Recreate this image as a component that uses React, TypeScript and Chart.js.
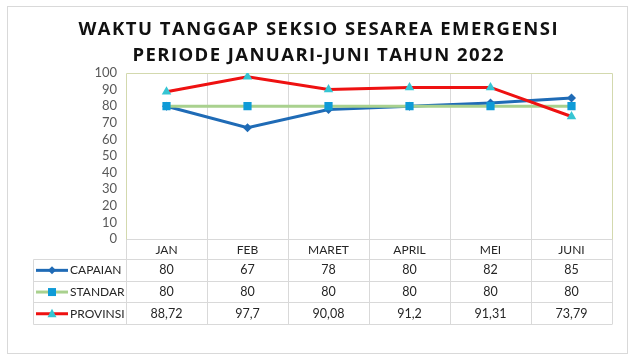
import React, { useEffect, useRef } from 'react';
import { Chart, registerables } from 'chart.js';

Chart.register(...registerables);

const categories = ['JAN', 'FEB', 'MARET', 'APRIL', 'MEI', 'JUNI'];
const capaian = [80, 67, 78, 80, 82, 85];
const standar = [80, 80, 80, 80, 80, 80];
const provinsi = [88.72, 97.7, 90.08, 91.2, 91.31, 73.79];
const seriesNames = ['CAPAIAN', 'STANDAR', 'PROVINSI'];
const titleLines = ['WAKTU TANGGAP SEKSIO SESAREA EMERGENSI', 'PERIODE JANUARI-JUNI TAHUN 2022'];
const yMin = 0;
const yMax = 100;
const yStep = 10;

const FONT = 'Lato, "Noto Sans", sans-serif';
const TITLE_FONT = '"Open Sans", "Noto Sans", sans-serif';
const BLUE = '#1f6bb6';
const GREEN = '#a9d18e';
const SQUARE = '#0f9bd7';
const RED = '#ee1111';
const TRI = '#36c5d3';
const GRID = '#d9d9d9';
const PLOT_BORDER = '#d3d9ae';
const TEXT = '#262626';

const fmt = (v: number) => String(v).replace('.', ',');

type Marker = 'diamond' | 'square' | 'triangle';
const seriesStyle: { line: string; marker: string; shape: Marker }[] = [
  { line: BLUE, marker: BLUE, shape: 'diamond' },
  { line: GREEN, marker: SQUARE, shape: 'square' },
  { line: RED, marker: TRI, shape: 'triangle' },
];
const seriesValues = [capaian, standar, provinsi];

function drawMarker(ctx: CanvasRenderingContext2D, shape: Marker, x: number, y: number, color: string) {
  ctx.fillStyle = color;
  ctx.beginPath();
  if (shape === 'diamond') {
    ctx.moveTo(x, y - 4);
    ctx.lineTo(x + 4, y);
    ctx.lineTo(x, y + 4);
    ctx.lineTo(x - 4, y);
  } else if (shape === 'square') {
    ctx.rect(x - 4, y - 4, 8, 8);
  } else {
    ctx.moveTo(x, y - 5);
    ctx.lineTo(x + 4.5, y + 3.5);
    ctx.lineTo(x - 4.5, y + 3.5);
  }
  ctx.closePath();
  ctx.fill();
}

const framePlugin = {
  id: 'frameTable',
  beforeDraw(chart: any) {
    const ctx: CanvasRenderingContext2D = chart.ctx;
    ctx.save();
    ctx.fillStyle = '#ffffff';
    ctx.fillRect(0, 0, chart.width, chart.height);
    ctx.strokeStyle = GRID;
    ctx.lineWidth = 1;
    ctx.strokeRect(7.5, 6.5, 620, 347);
    // title
    ctx.fillStyle = '#111111';
    ctx.font = `bold 18.5px ${TITLE_FONT}`;
    ctx.textAlign = 'left';
    ctx.textBaseline = 'alphabetic';
    const targets = [479, 371];
    const baselines = [34.5, 60.5];
    titleLines.forEach((t, i) => {
      (ctx as any).letterSpacing = '0px';
      const w = ctx.measureText(t).width;
      const sp = (targets[i] - w) / (t.length - 1);
      (ctx as any).letterSpacing = `${sp}px`;
      const left = 318 - targets[i] / 2;
      ctx.fillText(t, left, baselines[i]);
    });
    (ctx as any).letterSpacing = '0px';
    ctx.restore();
  },
  beforeDatasetsDraw(chart: any) {
    const ctx: CanvasRenderingContext2D = chart.ctx;
    const a = chart.chartArea;
    const x = chart.scales.x;
    const n = categories.length;
    const half = (x.getPixelForValue(1) - x.getPixelForValue(0)) / 2;
    const headerH = 20;
    const rowH = 21.7;
    const tableBottom = a.bottom + headerH + rowH * 3;
    const legendLeft = 33;
    ctx.save();
    ctx.lineWidth = 1;
    ctx.strokeStyle = GRID;
    ctx.beginPath();
    for (let i = 0; i <= n; i++) {
      const px = Math.round(x.getPixelForValue(0) - half + i * 2 * half) + 0.5;
      const top = i === 0 || i === n ? a.bottom : a.top;
      ctx.moveTo(px, top);
      ctx.lineTo(px, tableBottom);
    }
    const right = Math.round(a.right) + 0.5;
    const left = Math.round(a.left) + 0.5;
    ctx.moveTo(left, Math.round(a.bottom) + 0.5);
    ctx.lineTo(right, Math.round(a.bottom) + 0.5);
    for (let r = 0; r <= 3; r++) {
      const py = Math.round(a.bottom + headerH + r * rowH) + 0.5;
      ctx.moveTo(legendLeft + 0.5, py);
      ctx.lineTo(right, py);
    }
    const yHead = Math.round(a.bottom + headerH) + 0.5;
    ctx.moveTo(legendLeft + 0.5, yHead);
    ctx.lineTo(legendLeft + 0.5, Math.round(tableBottom) + 0.5);
    ctx.stroke();
    // plot border
    ctx.strokeStyle = PLOT_BORDER;
    ctx.beginPath();
    ctx.moveTo(left, Math.round(a.bottom) + 0.5);
    ctx.lineTo(left, Math.round(a.top) + 0.5);
    ctx.lineTo(right, Math.round(a.top) + 0.5);
    ctx.lineTo(right, Math.round(a.bottom) + 0.5);
    ctx.stroke();

    // table text
    ctx.font = `12px ${FONT}`;
    ctx.textBaseline = 'middle';
    ctx.textAlign = 'center';
    ctx.fillStyle = TEXT;
    categories.forEach((c, i) => {
      ctx.fillText(c, x.getPixelForValue(i), a.bottom + headerH / 2 + 1);
    });
    seriesValues.forEach((vals, r) => {
      const cy = a.bottom + headerH + r * rowH + rowH / 2 + 0.5;
      ctx.textAlign = 'center';
      ctx.fillStyle = TEXT;
      ctx.font = `12.5px ${FONT}`;
      vals.forEach((v, i) => {
        ctx.fillText(fmt(v), x.getPixelForValue(i), cy);
      });
      ctx.font = `12px ${FONT}`;
      ctx.textAlign = 'left';
      ctx.fillText(seriesNames[r], 70, cy);
      // legend key
      const st = seriesStyle[r];
      ctx.strokeStyle = st.line;
      ctx.lineWidth = 3;
      ctx.beginPath();
      ctx.moveTo(36, cy);
      ctx.lineTo(68, cy);
      ctx.stroke();
      drawMarker(ctx, st.shape, 52, cy, st.marker);
    });
    ctx.restore();
  },
};

export default function App() {
  const ref = useRef<HTMLCanvasElement | null>(null);
  useEffect(() => {
    if (!ref.current) return;
    const chart = new Chart(ref.current, {
      type: 'line',
      data: {
        labels: categories,
        datasets: [
          {
            label: seriesNames[0],
            data: capaian,
            borderColor: BLUE,
            backgroundColor: BLUE,
            borderWidth: 3,
            pointStyle: 'rectRot',
            pointRadius: 4.5,
            pointBorderWidth: 0,
            pointBackgroundColor: BLUE,
            order: 3,
          },
          {
            label: seriesNames[1],
            data: standar,
            borderColor: GREEN,
            backgroundColor: SQUARE,
            borderWidth: 3,
            pointStyle: 'rect',
            pointRadius: 5.8,
            pointBorderWidth: 0,
            pointBackgroundColor: SQUARE,
            order: 2,
          },
          {
            label: seriesNames[2],
            data: provinsi,
            borderColor: RED,
            backgroundColor: TRI,
            borderWidth: 3,
            pointStyle: 'triangle',
            pointRadius: 5.5,
            pointBorderWidth: 0,
            pointBackgroundColor: TRI,
            order: 1,
          },
        ],
      },
      options: {
        animation: false,
        responsive: false,
        maintainAspectRatio: false,
        layout: { padding: { left: 86, top: 73, right: 25, bottom: 124 } },
        plugins: { legend: { display: false }, title: { display: false }, tooltip: { enabled: false } },
        elements: { line: { tension: 0 } },
        scales: {
          x: { display: false, offset: true },
          y: {
            min: yMin,
            max: yMax,
            grid: { display: false, drawTicks: false },
            border: { display: false },
            ticks: {
              stepSize: yStep,
              autoSkip: false,
              color: '#595959',
              font: { family: FONT, size: 13 },
              padding: 9,
            },
            afterFit: (s: any) => {
              s.width = 40;
            },
          },
        },
      },
      plugins: [framePlugin],
    });
    return () => chart.destroy();
  }, []);
  return (
    <div style={{ position: 'fixed', left: 0, top: 0, width: 637, height: 363, background: '#fff' }}>
      <canvas ref={ref} width={637} height={363} style={{ display: 'block', width: 637, height: 363 }} />
    </div>
  );
}
